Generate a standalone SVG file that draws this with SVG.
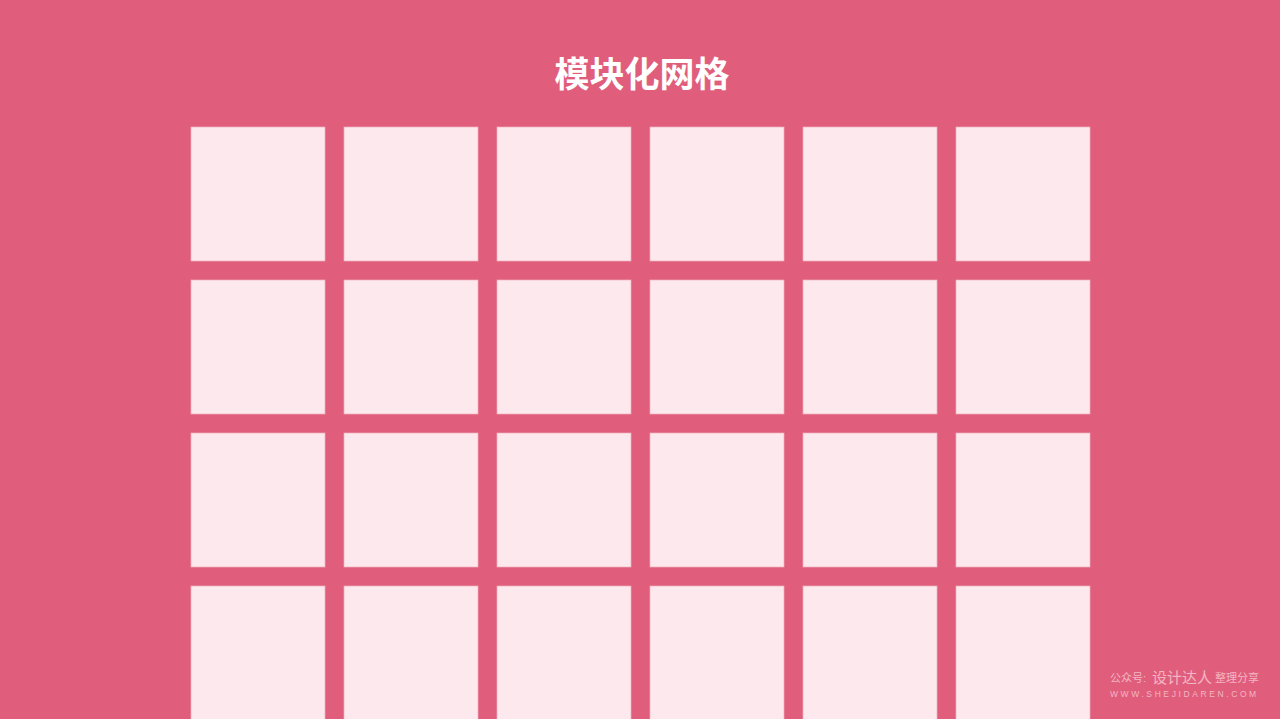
<svg xmlns="http://www.w3.org/2000/svg" width="1280" height="719" viewBox="0 0 1280 719">
<defs>
<style>
.cell{fill:#FDE8EE;stroke:#EDB0BE;stroke-width:0.7}
.wm{fill:#F3B5C3;font-family:"Liberation Sans","Noto Sans CJK SC",sans-serif}
</style>
</defs>
<rect width="1280" height="719" fill="#E05E7C"/>
<text x="642" y="87" text-anchor="middle" font-family="'Noto Sans CJK SC',sans-serif" font-weight="bold" font-size="35" fill="#FFFFFF">模块化网格</text>
<g id="grid">
<g id="r1">
<rect class="cell" x="191" y="127" width="134" height="134"/>
<rect class="cell" x="344" y="127" width="134" height="134"/>
<rect class="cell" x="497" y="127" width="134" height="134"/>
<rect class="cell" x="650" y="127" width="134" height="134"/>
<rect class="cell" x="803" y="127" width="134" height="134"/>
<rect class="cell" x="956" y="127" width="134" height="134"/>
</g>
<g id="r2">
<rect class="cell" x="191" y="280" width="134" height="134"/>
<rect class="cell" x="344" y="280" width="134" height="134"/>
<rect class="cell" x="497" y="280" width="134" height="134"/>
<rect class="cell" x="650" y="280" width="134" height="134"/>
<rect class="cell" x="803" y="280" width="134" height="134"/>
<rect class="cell" x="956" y="280" width="134" height="134"/>
</g>
<g id="r3">
<rect class="cell" x="191" y="433" width="134" height="134"/>
<rect class="cell" x="344" y="433" width="134" height="134"/>
<rect class="cell" x="497" y="433" width="134" height="134"/>
<rect class="cell" x="650" y="433" width="134" height="134"/>
<rect class="cell" x="803" y="433" width="134" height="134"/>
<rect class="cell" x="956" y="433" width="134" height="134"/>
</g>
<g id="r4">
<rect class="cell" x="191" y="586" width="134" height="140"/>
<rect class="cell" x="344" y="586" width="134" height="140"/>
<rect class="cell" x="497" y="586" width="134" height="140"/>
<rect class="cell" x="650" y="586" width="134" height="140"/>
<rect class="cell" x="803" y="586" width="134" height="140"/>
<rect class="cell" x="956" y="586" width="134" height="140"/>
</g>
</g>
<g id="watermark">
<text class="wm" x="1110" y="682" font-size="11">公众号:</text>
<text class="wm" x="1152" y="683" font-size="15">设计达人</text>
<text class="wm" x="1215" y="682" font-size="11">整理分享</text>
<text class="wm" x="1110" y="697" font-size="8.5" letter-spacing="2.6">WWW.SHEJIDAREN.COM</text>
</g>
</svg>
